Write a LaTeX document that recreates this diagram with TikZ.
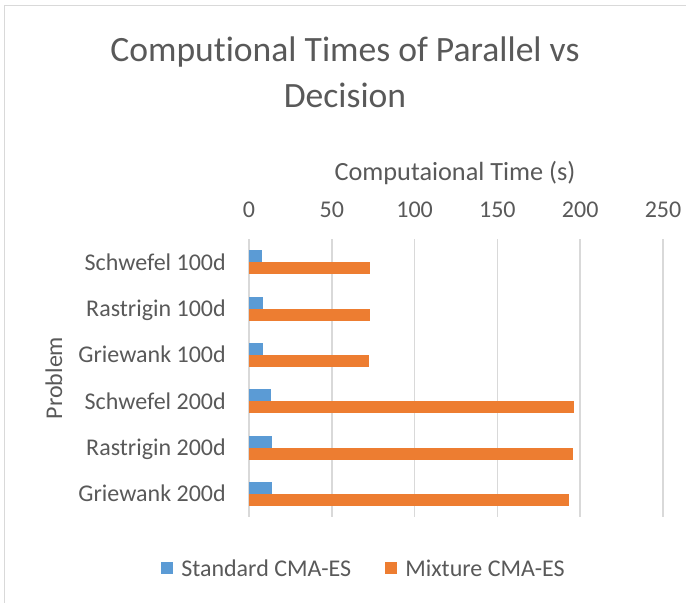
\documentclass[tikz,border=0pt]{standalone}
\usepackage{fontspec}
\setmainfont{Carlito}[Ligatures=NoCommon]
\usepackage{tikz}
\usetikzlibrary{positioning}
\definecolor{txtgray}{HTML}{595959}
\definecolor{gridgray}{HTML}{D9D9D9}
\definecolor{stdblue}{HTML}{5B9BD5}
\definecolor{mixorange}{HTML}{ED7D31}

\begin{document}
\begin{tikzpicture}[x=0.75pt,y=-0.75pt,every node/.style={text=txtgray,inner sep=0pt}]
  \tikzstyle{chtitle} = [anchor=base,font=\fontsize{26.7}{32}\selectfont];
  \tikzstyle{lbl} = [font=\fontsize{18}{21.6}\selectfont];
  \tikzset{cat/.style={lbl,anchor=base east},key/.style={minimum size=9pt,fill=#1}};
  \useasboundingbox (0,0) rectangle (686,603);
  \draw[gridgray,line width=1.1pt] (4.5,603) -- (4.5,5.5) -- (686,5.5);
  \node[chtitle] (title) at (345,61) {Computional Times of Parallel vs};
  \node[chtitle] (title2) at (345,107) {Decision};
  \node[lbl,anchor=base,font=\fontsize{19.7}{23}\selectfont] (xtitle) at (455,180.5) {Computaional Time (s)};
  \node[lbl,anchor=base,rotate=90] (ytitle) at (62,378) {Problem};
  \begin{scope}[shift={(249,0)},x=1.242pt]
    \foreach \v in {0,50,...,250} {
      \draw[gridgray,line width=1.1pt] (\v,239) -- (\v,517);
      \node[lbl,anchor=base] (tick\v) at (\v,217) {\v};
    }
    \fill[stdblue] (0,250.2) rectangle (8,262.2);
    \fill[mixorange] (0,262.2) rectangle (73,274.2);
    \fill[stdblue] (0,296.5) rectangle (8.5,308.5);
    \fill[mixorange] (0,308.5) rectangle (73,320.5);
    \fill[stdblue] (0,342.8) rectangle (8.5,354.8);
    \fill[mixorange] (0,354.8) rectangle (72.5,366.8);
    \fill[stdblue] (0,389.2) rectangle (13,401.2);
    \fill[mixorange] (0,401.2) rectangle (196.5,413.2);
    \fill[stdblue] (0,435.5) rectangle (14,447.5);
    \fill[mixorange] (0,447.5) rectangle (195.8,459.5);
    \fill[stdblue] (0,481.8) rectangle (14,493.8);
    \fill[mixorange] (0,493.8) rectangle (193.5,505.8);
  \end{scope}
  \node[cat] (schw1) at (226,270.2) {Schwefel 100d};
  \node[cat] (rast1) at (226,316.5) {Rastrigin 100d};
  \node[cat] (grie1) at (226,362.8) {Griewank 100d};
  \node[cat] (schw2) at (226,409.2) {Schwefel 200d};
  \node[cat] (rast2) at (226,455.5) {Rastrigin 200d};
  \node[cat] (grie2) at (226,501.8) {Griewank 200d};
  \node[key=stdblue] (stdkey) at (167,568) {};
  \node[lbl,anchor=base west] (stdtext) at (181,576) {Standard CMA-ES};
  \node[key=mixorange] (mixkey) at (390.5,568) {};
  \node[lbl,anchor=base west] (mixtext) at (405,576) {Mixture CMA-ES};
\end{tikzpicture}
\end{document}
